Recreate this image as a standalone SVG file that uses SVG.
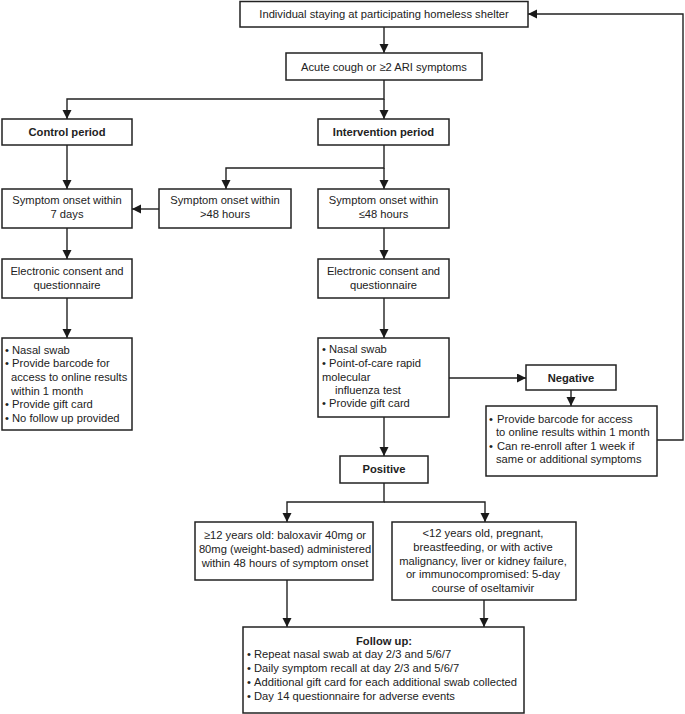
<svg xmlns="http://www.w3.org/2000/svg" width="685" height="714" viewBox="0 0 685 714">
<defs>
<marker id="ah" markerUnits="userSpaceOnUse" markerWidth="10" markerHeight="10" refX="9" refY="4.5" orient="auto">
<path d="M0,0 L9,4.5 L0,9 z" fill="#1a1a1a"/>
</marker>
<style>
.box{fill:#fff;stroke:#222;stroke-width:1.5}
.t{font-family:"Liberation Sans",Arial,sans-serif;font-size:11.2px;fill:#222}
.c{text-anchor:middle}
.b{font-weight:bold}
.e{fill:none;stroke:#222;stroke-width:1.4}
.ea{fill:none;stroke:#222;stroke-width:1.4;marker-end:url(#ah)}
</style>
</defs>
<rect width="685" height="714" fill="#fff"/>
<g id="connectors">
<path class="ea" d="M384,27 V53"/>
<path class="ea" d="M384,80 V99 H67 V119"/>
<path class="ea" d="M384,99 V119"/>
<path class="ea" d="M67,145 V189"/>
<path class="ea" d="M384,145 V168 H226 V189"/>
<path class="ea" d="M384,168 V189"/>
<path class="ea" d="M159,209 H132"/>
<path class="ea" d="M67,228 V259"/>
<path class="ea" d="M384,228 V259"/>
<path class="ea" d="M67,298 V338"/>
<path class="ea" d="M384,298 V338"/>
<path class="ea" d="M449,378 H526"/>
<path class="ea" d="M571,390 V406"/>
<path class="ea" d="M657,440 H683 V14 H528"/>
<path class="ea" d="M384,417 V456"/>
<path class="ea" d="M384,483 V502 H287 V522"/>
<path class="ea" d="M384,502 H485 V522"/>
<path class="ea" d="M287,580 V627"/>
<path class="ea" d="M484,600 V627"/>
</g>
<g id="n-shelter">
<rect class="box" x="240" y="1.5" width="288" height="25.5"/>
<text class="t c" x="384" y="18">Individual staying at participating homeless shelter</text>
</g>
<g id="n-symptoms">
<rect class="box" x="286" y="53" width="196" height="27"/>
<text class="t c" x="384" y="70.5">Acute cough or ≥2 ARI symptoms</text>
</g>
<g id="n-control">
<rect class="box" x="2" y="119" width="130" height="26"/>
<text class="t c b" x="67" y="136">Control period</text>
</g>
<g id="n-intervention">
<rect class="box" x="318" y="119" width="131" height="26"/>
<text class="t c b" x="383.5" y="136">Intervention period</text>
</g>
<g id="n-onset7">
<rect class="box" x="2" y="189" width="130" height="39"/>
<text class="t c" x="67" y="204">Symptom onset within</text>
<text class="t c" x="67" y="218">7 days</text>
</g>
<g id="n-onsetgt48">
<rect class="box" x="159" y="189" width="132" height="39"/>
<text class="t c" x="225" y="204">Symptom onset within</text>
<text class="t c" x="225" y="218">&gt;48 hours</text>
</g>
<g id="n-onsetle48">
<rect class="box" x="318" y="189" width="131" height="39"/>
<text class="t c" x="383.5" y="204">Symptom onset within</text>
<text class="t c" x="383.5" y="218">≤48 hours</text>
</g>
<g id="n-consent-control">
<rect class="box" x="2" y="259" width="130" height="39"/>
<text class="t c" x="67" y="275">Electronic consent and</text>
<text class="t c" x="67" y="289">questionnaire</text>
</g>
<g id="n-consent-intervention">
<rect class="box" x="318" y="259" width="131" height="39"/>
<text class="t c" x="383.5" y="275">Electronic consent and</text>
<text class="t c" x="383.5" y="289">questionnaire</text>
</g>
<g id="n-control-steps">
<rect class="box" x="2" y="338" width="130" height="92"/>
<text class="t" x="5" y="354">•</text><text class="t" x="12" y="354">Nasal swab</text>
<text class="t" x="5" y="367">•</text><text class="t" x="12" y="367">Provide barcode for</text>
<text class="t" x="11" y="381">access to online results</text>
<text class="t" x="11" y="395">within 1 month</text>
<text class="t" x="5" y="408">•</text><text class="t" x="12" y="408">Provide gift card</text>
<text class="t" x="5" y="422">•</text><text class="t" x="12" y="422">No follow up provided</text>
</g>
<g id="n-intervention-steps">
<rect class="box" x="318" y="338" width="131" height="79"/>
<text class="t" x="322" y="353">•</text><text class="t" x="329" y="353">Nasal swab</text>
<text class="t" x="322" y="367">•</text><text class="t" x="329" y="367">Point-of-care rapid</text>
<text class="t" x="322" y="381">molecular</text>
<text class="t" x="335" y="394">influenza test</text>
<text class="t" x="322" y="407">•</text><text class="t" x="329" y="407">Provide gift card</text>
</g>
<g id="n-negative">
<rect class="box" x="526" y="365" width="90" height="25"/>
<text class="t c b" x="571" y="381.5">Negative</text>
</g>
<g id="n-negative-steps">
<rect class="box" x="486" y="406" width="171" height="70"/>
<text class="t" x="489" y="423">•</text><text class="t" x="497" y="423">Provide barcode for access</text>
<text class="t" x="496" y="436">to online results within 1 month</text>
<text class="t" x="489" y="450">•</text><text class="t" x="497" y="450">Can re-enroll after 1 week if</text>
<text class="t" x="496" y="463">same or additional symptoms</text>
</g>
<g id="n-positive">
<rect class="box" x="340" y="456" width="88" height="27"/>
<text class="t c b" x="384" y="473">Positive</text>
</g>
<g id="n-baloxavir">
<rect class="box" x="195" y="522" width="178" height="58"/>
<text class="t c" x="285" y="539">≥12 years old: baloxavir 40mg or</text>
<text class="t c" x="285" y="553">80mg (weight-based) administered</text>
<text class="t c" x="285" y="567">within 48 hours of symptom onset</text>
</g>
<g id="n-oseltamivir">
<rect class="box" x="392" y="522" width="184" height="78"/>
<text class="t c" x="483" y="537">&lt;12 years old, pregnant,</text>
<text class="t c" x="483" y="551">breastfeeding, or with active</text>
<text class="t c" x="483" y="565">malignancy, liver or kidney failure,</text>
<text class="t c" x="483" y="578">or immunocompromised: 5-day</text>
<text class="t c" x="483" y="592">course of oseltamivir</text>
</g>
<g id="n-followup">
<rect class="box" x="243" y="627" width="281" height="86"/>
<text class="t c b" x="384" y="645">Follow up:</text>
<text class="t" x="247" y="658">•</text><text class="t" x="254" y="658">Repeat nasal swab at day 2/3 and 5/6/7</text>
<text class="t" x="247" y="672">•</text><text class="t" x="254" y="672">Daily symptom recall at day 2/3 and 5/6/7</text>
<text class="t" x="247" y="686">•</text><text class="t" x="254" y="686">Additional gift card for each additional swab collected</text>
<text class="t" x="247" y="700">•</text><text class="t" x="254" y="700">Day 14 questionnaire for adverse events</text>
</g>
</svg>
